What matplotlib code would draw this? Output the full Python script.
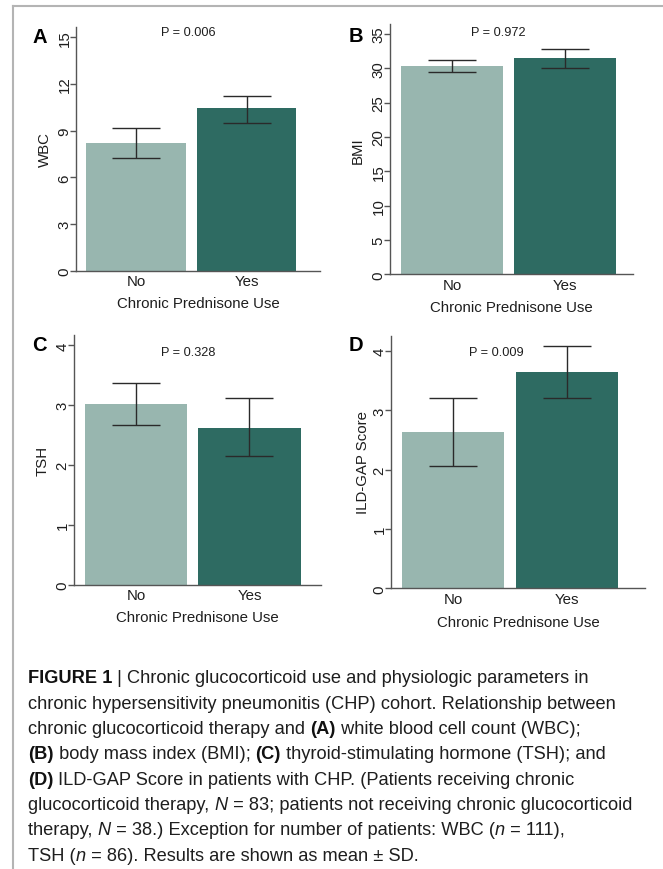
import matplotlib
matplotlib.use("Agg")
import matplotlib.pyplot as plt
from matplotlib.lines import Line2D

# ---------------- data ----------------
categories = ["No", "Yes"]

wbc_mean = [8.23, 10.44]
wbc_lo = [7.22, 9.47]
wbc_hi = [9.19, 11.25]

bmi_mean = [30.35, 31.45]
bmi_lo = [29.5, 30.05]
bmi_hi = [31.2, 32.85]

tsh_mean = [3.02, 2.63]
tsh_lo = [2.68, 2.15]
tsh_hi = [3.37, 3.12]

gap_mean = [2.63, 3.65]
gap_lo = [2.06, 3.21]
gap_hi = [3.21, 4.08]

p_values = ["P = 0.006", "P = 0.972", "P = 0.328", "P = 0.009"]
panel_letters = ["A", "B", "C", "D"]
y_labels = ["WBC", "BMI", "TSH", "ILD-GAP Score"]
x_label = "Chronic Prednisone Use"
y_ticks = [[0, 3, 6, 9, 12, 15], [0, 5, 10, 15, 20, 25, 30, 35],
           [0, 1, 2, 3, 4], [0, 1, 2, 3, 4]]
y_tops = [15.66, 36.45, 4.18, 4.26]

caption_lines = [
    [("FIGURE 1", "b"), (" | Chronic glucocorticoid use and physiologic parameters in", "n")],
    [("chronic hypersensitivity pneumonitis (CHP) cohort. Relationship between", "n")],
    [("chronic glucocorticoid therapy and ", "n"), ("(A)", "b"), (" white blood cell count (WBC);", "n")],
    [("(B)", "b"), (" body mass index (BMI); ", "n"), ("(C)", "b"),
     (" thyroid-stimulating hormone (TSH); and", "n")],
    [("(D)", "b"), (" ILD-GAP Score in patients with CHP. (Patients receiving chronic", "n")],
    [("glucocorticoid therapy, ", "n"), ("N", "i"),
     (" = 83; patients not receiving chronic glucocorticoid", "n")],
    [("therapy, ", "n"), ("N", "i"), (" = 38.) Exception for number of patients: WBC (", "n"),
     ("n", "i"), (" = 111),", "n")],
    [("TSH (", "n"), ("n", "i"), (" = 86). Results are shown as mean ± SD.", "n")],
]

# ---------------- style ----------------
FONT = "Liberation Sans"
LIGHT = "#98b6af"
DARK = "#2e6b62"
AX_COL = "#555555"
TXT = "#1e1e1e"
plt.rcParams["font.family"] = [FONT, "DejaVu Sans"]

W, H = 663, 870
fig = plt.figure(figsize=(W / 100, H / 100), dpi=100)
fig.patch.set_facecolor("white")

# axes boxes in pixels: left, right, bottom(y from top), top(y from top)
boxes = [(76, 320, 271.7, 28), (390, 633, 275.4, 25),
         (74, 321, 586, 335.7), (391, 645, 589.3, 336.7)]
xlims = [(-0.543, 1.665), (-0.549, 1.602), (-0.546, 1.63), (-0.544, 1.684)]
p_pos = [(0.459, 0.979), (0.444, 0.968), (0.462, 0.932), (0.413, 0.937)]
letter_px = [(39.5, 37.8), (355.5, 36), (39, 345.5), (355.5, 345.5)]
ylab_px = [45, 358, 43, 363]
xlab_off = [32, 33, 32, 33.4]

means = [wbc_mean, bmi_mean, tsh_mean, gap_mean]
los = [wbc_lo, bmi_lo, tsh_lo, gap_lo]
his = [wbc_hi, bmi_hi, tsh_hi, gap_hi]

xs = list(range(len(categories)))
for i in range(4):
    l, r, b, t = boxes[i]
    ax = fig.add_axes([l / W, 1 - b / H, (r - l) / W, (b - t) / H])
    m = means[i]
    err = [[m[k] - los[i][k] for k in xs], [his[i][k] - m[k] for k in xs]]
    ax.bar(xs, m, width=0.9, color=[LIGHT, DARK], edgecolor="none", zorder=2)
    ax.errorbar(xs, m, yerr=err, fmt="none", ecolor="#2a2a2a", elinewidth=1.0,
                capsize=17, capthick=1.0, zorder=3)
    ax.set_xlim(*xlims[i])
    ax.set_ylim(0, y_tops[i])
    ax.set_yticks(y_ticks[i])
    ax.set_xticks(xs)
    ax.set_xticklabels(categories)
    for s in ["top", "right"]:
        ax.spines[s].set_visible(False)
    for s in ["left", "bottom"]:
        ax.spines[s].set_color(AX_COL)
        ax.spines[s].set_linewidth(1.0)
    ax.tick_params(axis="x", length=0, pad=2.5, labelsize=10.8, colors=TXT)
    ax.tick_params(axis="y", length=4.3, width=1.0, color=AX_COL, pad=-1.0,
                   labelsize=10.8, labelcolor=TXT, labelrotation=90)
    for lab in ax.get_yticklabels():
        lab.set_va("center")
    ax.set_ylabel(y_labels[i], fontsize=10.8, color=TXT, va="center")
    ax.yaxis.set_label_coords((ylab_px[i] - l) / (r - l), 0.5)
    ax.set_xlabel(x_label, fontsize=10.8, color=TXT, va="center")
    ax.xaxis.set_label_coords(0.5, -xlab_off[i] / (b - t))
    ax.text(p_pos[i][0], p_pos[i][1], p_values[i], transform=ax.transAxes,
            ha="center", va="center", fontsize=9.2, color=TXT)
    fig.text(letter_px[i][0] / W, 1 - letter_px[i][1] / H, panel_letters[i],
             ha="center", va="center", fontsize=14.5, fontweight="bold", color="black")

# frame lines
fig.add_artist(Line2D([13 / W, 1.0], [1 - 7 / H, 1 - 7 / H], color="#b4b4b4", lw=1.5,
                      transform=fig.transFigure))
fig.add_artist(Line2D([13 / W, 13 / W], [1 - 7 / H, 0.0], color="#b4b4b4", lw=1.5,
                      transform=fig.transFigure))

# caption
renderer = fig.canvas.get_renderer()


def seg_props(kind, size):
    d = dict(fontsize=size, color=TXT if kind != "b" else "#111111")
    if kind == "b":
        d["fontweight"] = "bold"
    if kind == "i":
        d["fontstyle"] = "italic"
    return d


def seg_width(text, kind, size):
    t1 = fig.text(0, 0, text + "|", **seg_props(kind, size))
    t2 = fig.text(0, 0, "|", **seg_props(kind, size))
    w = t1.get_window_extent(renderer).width - t2.get_window_extent(renderer).width
    t1.remove()
    t2.remove()
    return w


def line_width(segs, size):
    return sum(seg_width(s, k, size) for s, k in segs)


base_size = 12.0
target = 607.0
size = base_size * target / line_width(caption_lines[5], base_size)

x0 = 28.0
for j, segs in enumerate(caption_lines):
    y = 683.3 + 25.34 * j
    x = x0
    for s, k in segs:
        fig.text(x / W, 1 - y / H, s, ha="left", va="baseline", **seg_props(k, size))
        x += seg_width(s, k, size)

fig.savefig("out.png", dpi=100, facecolor="white")
